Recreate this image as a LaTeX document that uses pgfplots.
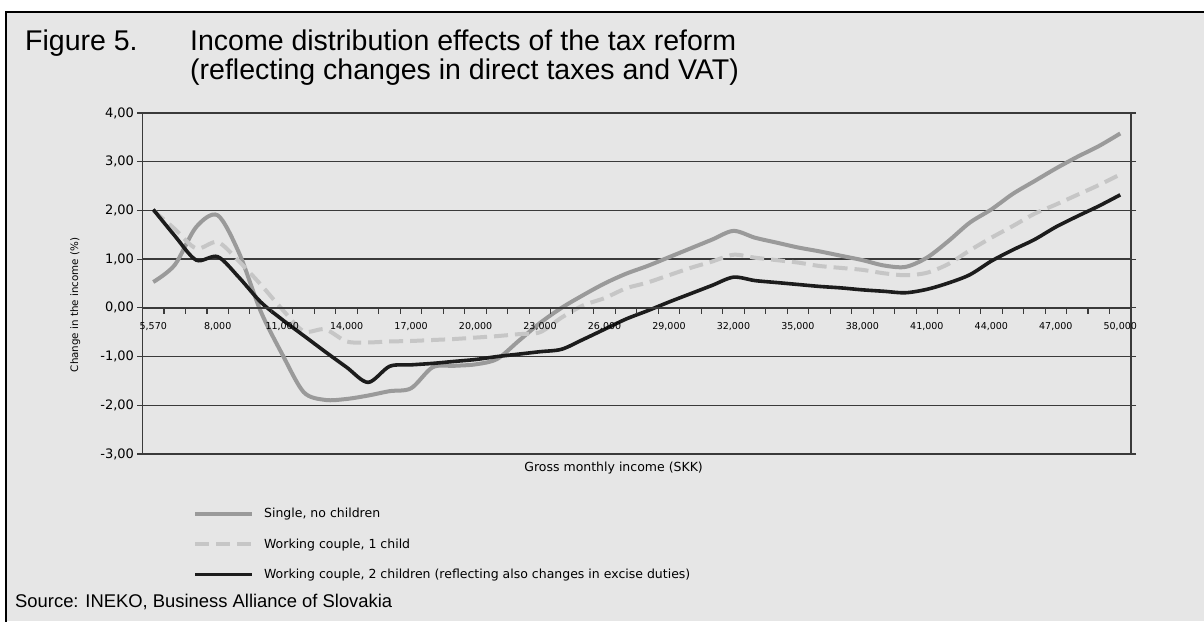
\documentclass[border=0pt]{standalone}
\usepackage{pgfplots}
\usepackage{pgfplotstable}
\pgfplotsset{compat=1.18}
\usepackage{fontspec}
\setmainfont{DejaVu Sans}
\newfontfamily\titlefont{Liberation Sans}
\definecolor{bgc}{HTML}{E6E6E6}
\definecolor{gridc}{HTML}{3A3A3A}
\definecolor{singlec}{HTML}{9A9A9A}
\definecolor{dashc}{HTML}{C6C6C6}
\definecolor{blackc}{HTML}{1C1C1C}

\pgfplotstableread{
i S D B
0 0.53 2.00 2.02
1 0.88 1.62 1.48
2 1.66 1.22 0.98
3 1.90 1.35 1.05
4 1.12 0.95 0.62
5 -0.07 0.48 0.12
6 -0.95 -0.03 -0.24
7 -1.73 -0.48 -0.57
8 -1.89 -0.44 -0.90
9 -1.87 -0.69 -1.22
10 -1.80 -0.71 -1.53
11 -1.71 -0.69 -1.20
12 -1.65 -0.68 -1.17
13 -1.22 -0.66 -1.14
14 -1.19 -0.64 -1.10
15 -1.16 -0.61 -1.06
16 -1.05 -0.58 -1.00
17 -0.68 -0.54 -0.95
18 -0.31 -0.50 -0.90
19 0.00 -0.20 -0.85
20 0.26 0.05 -0.65
21 0.50 0.20 -0.44
22 0.70 0.40 -0.23
23 0.86 0.52 -0.06
24 1.04 0.67 0.12
25 1.22 0.82 0.29
26 1.40 0.95 0.46
27 1.58 1.09 0.63
28 1.44 1.03 0.56
29 1.34 0.98 0.52
30 1.24 0.93 0.48
31 1.16 0.86 0.44
32 1.07 0.82 0.41
33 0.98 0.78 0.37
34 0.87 0.71 0.34
35 0.84 0.67 0.31
36 1.03 0.72 0.38
37 1.37 0.90 0.51
38 1.75 1.18 0.68
39 2.02 1.44 0.96
40 2.34 1.68 1.19
41 2.60 1.93 1.40
42 2.86 2.12 1.66
43 3.10 2.32 1.88
44 3.32 2.52 2.09
45 3.58 2.74 2.32
}\data

\begin{document}
\begin{tikzpicture}[x=1pt,y=1pt]
\useasboundingbox (0,0) rectangle (1204,621);
\fill[white] (0,0) rectangle (1204,621);
\fill[bgc] (6,0) rectangle (1204,609);
\draw[black, line width=1.3pt] (6,-2) -- (6,609) -- (1206,609);

\node[anchor=base west, inner sep=0pt, font=\titlefont\fontsize{28.5}{31}\selectfont] at (25,570.5) {Figure 5.};
\node[anchor=base west, inner sep=0pt, font=\titlefont\fontsize{28.5}{31}\selectfont] at (190,570.5) {Income distribution effects of the tax reform};
\node[anchor=base west, inner sep=0pt, font=\titlefont\fontsize{28.5}{31}\selectfont] at (190,541) {(reflecting changes in direct taxes and VAT)};
\node[anchor=base west, inner sep=0pt, font=\titlefont\fontsize{18.4}{21}\selectfont] at (15,13.3) {Source: INEKO, Business Alliance of Slovakia};

\begin{axis}[
  at={(142.5pt,167pt)}, anchor=south west, scale only axis,
  width=988.5pt, height=341pt,
  xmin=-0.5, xmax=45.5, ymin=-3, ymax=4,
  xtick=\empty,
  ytick={-3,-2,-1,0,1,2,3,4},
  yticklabels={{-3,00},{-2,00},{-1,00},{0,00},{1,00},{2,00},{3,00},{4,00}},
  yticklabel style={font=\fontsize{13}{15}\selectfont},
  ymajorgrids, grid style={draw=gridc, line width=1.3pt},
  axis line style={draw=gridc, line width=1.3pt},
  tick align=outside, major tick length=5pt,
  ytick style={draw=gridc, line width=1.1pt},
  ylabel={Change in the income (\%)},
  ylabel style={at={(axis description cs:-0.068,0.437)}, anchor=center, font=\fontsize{10.3}{12}\selectfont},
  xlabel={Gross monthly income (SKK)},
  xlabel style={at={(axis description cs:0.4766,-0.041)}, anchor=center, font=\fontsize{12.5}{14}\selectfont},
  legend style={at={(axis description cs:0.051,-0.152)}, anchor=north west, draw=none, fill=none,
    font=\fontsize{12.5}{14}\selectfont, row sep=15.5pt, inner sep=0pt, cells={anchor=west},
    /tikz/every odd column/.append style={column sep=8pt}},
  legend image code/.code={\draw[#1] (0pt,0pt) -- (57pt,0pt);},
  clip=false,
]
\addplot[singlec, line width=4pt, smooth, tension=0.5] table[x=i, y=S] {\data};
\addlegendentry{Single, no children}
\addplot[dashc, line width=4pt, dash pattern=on 14pt off 7pt, smooth, tension=0.5] table[x=i, y=D] {\data};
\addlegendentry{Working couple, 1 child}
\addplot[blackc, line width=3.6pt, smooth, tension=0.5] table[x=i, y=B] {\data};
\addlegendentry{Working couple, 2 children (reflecting also changes in excise duties)}
\end{axis}

\begin{axis}[
  at={(142.5pt,167pt)}, anchor=south west, scale only axis,
  width=988.5pt, height=341pt,
  xmin=-0.5, xmax=45.5, ymin=-3, ymax=4,
  axis x line=middle, axis y line=none,
  axis line style={-, draw=gridc, line width=1.3pt},
  hide obscured x ticks=false,
  xtick={0,3,...,45},
  xticklabels={{5,570},{8,000},{11,000},{14,000},{17,000},{20,000},{23,000},{26,000},{29,000},{32,000},{35,000},{38,000},{41,000},{44,000},{47,000},{50,000}},
  major tick length=0pt,
  minor xtick={0.5,1.5,...,44.5},
  minor tick length=6pt,
  tick align=outside,
  minor tick style={draw=gridc, line width=1.1pt},
  xticklabel style={font=\fontsize{9.5}{11}\selectfont, yshift=-11pt},
]
\end{axis}
\end{tikzpicture}
\end{document}
